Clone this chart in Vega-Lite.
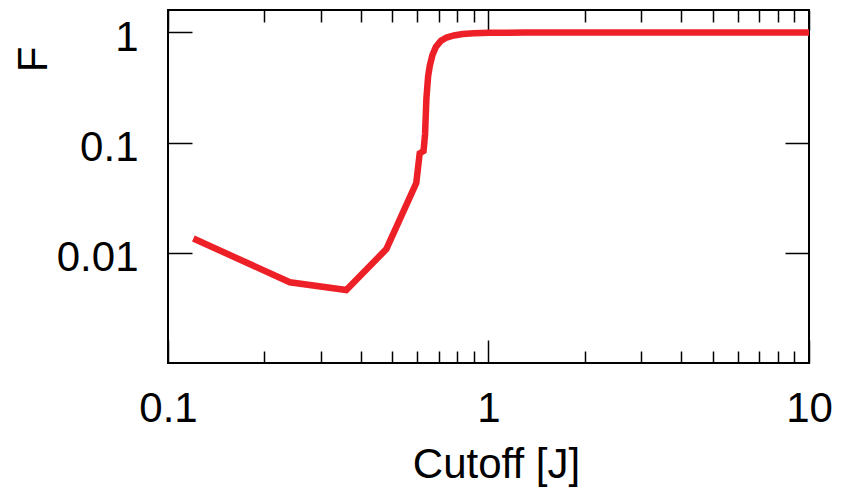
{
  "$schema": "https://vega.github.io/schema/vega-lite/v6.json",
  "width": 641,
  "height": 353,
  "autosize": {"type": "none"},
  "padding": {"left": 168, "top": 10, "right": 33, "bottom": 125},
  "background": "white",
  "config": {
    "view": {"stroke": "black", "strokeWidth": 2},
    "axis": {
      "grid": false,
      "domain": false,
      "tickColor": "black",
      "tickWidth": 1.5,
      "labelFont": "Liberation Sans",
      "titleFont": "Liberation Sans",
      "labelFontSize": 42,
      "titleFontSize": 42,
      "labelColor": "black",
      "titleColor": "black",
      "titleFontWeight": "normal",
      "labelFlush": false,
      "labelOverlap": false,
      "zindex": 1
    }
  },
  "data": {
    "values": [
      {"cutoff": 0.12, "F": 0.0135},
      {"cutoff": 0.24, "F": 0.0054},
      {"cutoff": 0.36, "F": 0.0046},
      {"cutoff": 0.48, "F": 0.0108},
      {"cutoff": 0.595, "F": 0.043},
      {"cutoff": 0.61, "F": 0.08},
      {"cutoff": 0.627, "F": 0.084},
      {"cutoff": 0.634, "F": 0.12},
      {"cutoff": 0.64, "F": 0.25},
      {"cutoff": 0.648, "F": 0.4},
      {"cutoff": 0.656, "F": 0.5},
      {"cutoff": 0.668, "F": 0.62},
      {"cutoff": 0.685, "F": 0.74},
      {"cutoff": 0.71, "F": 0.84},
      {"cutoff": 0.74, "F": 0.9},
      {"cutoff": 0.78, "F": 0.94},
      {"cutoff": 0.83, "F": 0.97},
      {"cutoff": 0.9, "F": 0.985},
      {"cutoff": 1.0, "F": 0.993},
      {"cutoff": 1.3, "F": 0.998},
      {"cutoff": 2, "F": 1.0},
      {"cutoff": 10, "F": 1.0}
    ]
  },
  "resolve": {"axis": {"x": "independent", "y": "independent"}},
  "layer": [
    {
      "mark": {"type": "line", "color": "#EE2027", "strokeWidth": 6.5, "strokeCap": "butt"},
      "encoding": {
        "x": {
          "field": "cutoff", "type": "quantitative",
          "scale": {"type": "log", "domain": [0.1, 10], "nice": false},
          "axis": {
            "orient": "bottom", "values": [0.1, 1, 10], "format": "~g",
            "tickSize": -23, "labelPadding": 81.7, "labelBaseline": "alphabetic",
            "title": "Cutoff [J]", "titleX": 328, "titleY": 114.7,
            "titleAlign": "center", "titleBaseline": "alphabetic"
          }
        },
        "y": {
          "field": "F", "type": "quantitative",
          "scale": {"type": "log", "domain": [0.001, 1.6], "nice": false},
          "axis": {
            "orient": "left", "values": [0.01, 0.1, 1], "format": "~g",
            "tickSize": -24, "labelPadding": 54, "labelBaseline": "alphabetic", "labelOffset": 18,
            "title": "F", "titleAngle": -90, "titleX": -121.6, "titleY": 49,
            "titleAlign": "center", "titleBaseline": "alphabetic"
          }
        }
      }
    },
    {
      "mark": {"type": "line", "opacity": 0},
      "encoding": {
        "x": {"field": "cutoff", "type": "quantitative",
          "axis": {"orient": "bottom", "values": [0.2, 0.3, 0.4, 0.5, 0.6, 0.7, 0.8, 0.9, 2, 3, 4, 5, 6, 7, 8, 9], "tickSize": -12, "labels": false, "title": null}},
        "y": {"field": "F", "type": "quantitative",
          "axis": {"orient": "right", "values": [0.01, 0.1, 1], "tickSize": -24, "labels": false, "title": null}}
      }
    },
    {
      "mark": {"type": "line", "opacity": 0},
      "encoding": {
        "x": {"field": "cutoff", "type": "quantitative",
          "axis": {"orient": "top", "values": [0.1, 1, 10], "tickSize": -20, "labels": false, "title": null}},
        "y": {"field": "F", "type": "quantitative", "axis": null}
      }
    },
    {
      "mark": {"type": "line", "opacity": 0},
      "encoding": {
        "x": {"field": "cutoff", "type": "quantitative",
          "axis": {"orient": "top", "values": [0.2, 0.3, 0.4, 0.5, 0.6, 0.7, 0.8, 0.9, 2, 3, 4, 5, 6, 7, 8, 9], "tickSize": -12, "labels": false, "title": null}},
        "y": {"field": "F", "type": "quantitative", "axis": null}
      }
    }
  ]
}
